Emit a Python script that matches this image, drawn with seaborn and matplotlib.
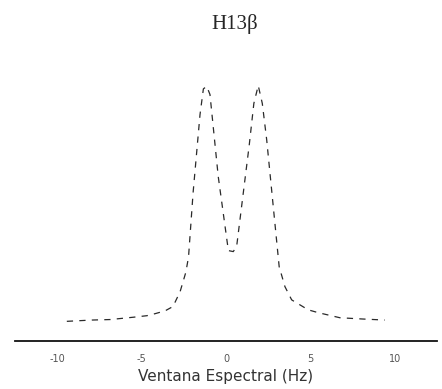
import matplotlib
matplotlib.use("Agg")
import matplotlib.pyplot as plt
import seaborn as sns
import pandas as pd

# Spectral window (Hz) and normalised line intensity of the H13β profile
frequency = [-9.43, -7.95, -6.86, -5.50, -4.69, -4.20, -3.61, -3.14, -2.72,
             -2.38, -2.22, -1.95, -1.54, -1.34, -1.14, -0.95, -0.46,
             0.14, 0.43, 0.63, 1.38, 1.65, 1.91, 2.15, 2.41, 3.15, 3.49,
             3.89, 4.87, 5.46, 6.75, 8.12, 9.41]
intensity = [0.077, 0.082, 0.084, 0.093, 0.099, 0.107, 0.118, 0.135, 0.193,
             0.269, 0.329, 0.58, 0.886, 0.987, 0.997, 0.965, 0.644,
             0.354, 0.350, 0.370, 0.769, 0.93, 1.000, 0.93, 0.788, 0.291, 0.213,
             0.161, 0.122, 0.111, 0.091, 0.086, 0.082]

tick_values = [-10, -5, 0, 5, 10]
tick_labels = ["-10", "-5", "0", "5", "10"]

df = pd.DataFrame({"freq": frequency, "inten": intensity})

sns.set_style("white")
plt.rcParams["font.family"] = ["DejaVu Sans"]

fig = plt.figure(figsize=(4.42, 3.89), dpi=100)
ax = fig.add_axes([15 / 442, 1 - 341 / 389, 422 / 442, (341 - 60) / 389])

# thin broken trace of the measured profile
sns.lineplot(data=df, x="freq", y="inten", ax=ax, color="#2a2a2a",
             linewidth=0.9, linestyle=(0, (5, 5)))

ax.set_xlim(-12.5, 12.5)
ax.set_ylim(0, 1.10)
ax.set_xticks(tick_values)
ax.set_xticklabels(tick_labels, fontsize=7, color="#555555")
ax.set_yticks([])
ax.tick_params(axis="x", direction="out", length=3, width=0.8, pad=6)
sns.despine(ax=ax, left=True, top=True, right=True)
ax.spines["bottom"].set_linewidth(1.3)
ax.spines["bottom"].set_color("#111111")

ax.set_xlabel("Ventana Espectral (Hz)", fontsize=11, color="#333333",
              labelpad=4)
ax.set_ylabel("")
fig.text(0.532, 1 - 24 / 389, "H13β", ha="center", va="center",
         fontsize=15, family=["Liberation Serif", "DejaVu Serif"])

fig.savefig("out.png", dpi=100)
